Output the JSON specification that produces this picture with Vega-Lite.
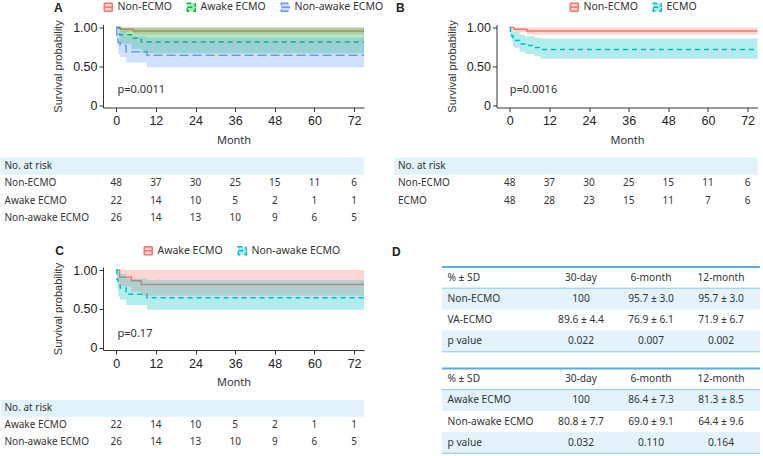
{
  "$schema": "https://vega.github.io/schema/vega-lite/v6.json",
  "padding": {"top": 1.5, "left": 0, "right": 0, "bottom": 0},
  "background": "white",
  "datasets": {
    "km": [
      {"group": "Non-ECMO", "t": 0, "s": 1, "lo": 1, "hi": 1},
      {"group": "Non-ECMO", "t": 1.3, "s": 0.979, "lo": 0.94, "hi": 1},
      {"group": "Non-ECMO", "t": 5.2, "s": 0.957, "lo": 0.91, "hi": 1},
      {"group": "Non-ECMO", "t": 75, "s": 0.957, "lo": 0.91, "hi": 1},
      {"group": "Awake ECMO", "t": 0, "s": 1, "lo": 1, "hi": 1},
      {"group": "Awake ECMO", "t": 1.0, "s": 0.909, "lo": 0.79, "hi": 1},
      {"group": "Awake ECMO", "t": 4.6, "s": 0.864, "lo": 0.72, "hi": 1},
      {"group": "Awake ECMO", "t": 7.6, "s": 0.813, "lo": 0.67, "hi": 1},
      {"group": "Awake ECMO", "t": 75, "s": 0.813, "lo": 0.67, "hi": 1},
      {"group": "Non-awake ECMO", "t": 0, "s": 1, "lo": 1, "hi": 1},
      {"group": "Non-awake ECMO", "t": 0.2, "s": 0.885, "lo": 0.77, "hi": 1},
      {"group": "Non-awake ECMO", "t": 0.6, "s": 0.808, "lo": 0.66, "hi": 0.97},
      {"group": "Non-awake ECMO", "t": 1.2, "s": 0.769, "lo": 0.62, "hi": 0.95},
      {"group": "Non-awake ECMO", "t": 3.0, "s": 0.69, "lo": 0.55, "hi": 0.89},
      {"group": "Non-awake ECMO", "t": 9.3, "s": 0.644, "lo": 0.49, "hi": 0.87},
      {"group": "Non-awake ECMO", "t": 75, "s": 0.644, "lo": 0.49, "hi": 0.87},
      {"group": "ECMO", "t": 0, "s": 1, "lo": 1, "hi": 1},
      {"group": "ECMO", "t": 0.2, "s": 0.938, "lo": 0.87, "hi": 1},
      {"group": "ECMO", "t": 0.6, "s": 0.896, "lo": 0.82, "hi": 0.98},
      {"group": "ECMO", "t": 1.0, "s": 0.854, "lo": 0.76, "hi": 0.95},
      {"group": "ECMO", "t": 1.2, "s": 0.833, "lo": 0.74, "hi": 0.94},
      {"group": "ECMO", "t": 3.0, "s": 0.79, "lo": 0.69, "hi": 0.91},
      {"group": "ECMO", "t": 4.6, "s": 0.769, "lo": 0.66, "hi": 0.89},
      {"group": "ECMO", "t": 7.6, "s": 0.745, "lo": 0.63, "hi": 0.87},
      {"group": "ECMO", "t": 9.3, "s": 0.719, "lo": 0.6, "hi": 0.86},
      {"group": "ECMO", "t": 75, "s": 0.719, "lo": 0.6, "hi": 0.86}
    ],
    "risk": [
      {"group": "Non-ECMO", "month": 0, "n": 48}, {"group": "Non-ECMO", "month": 12, "n": 37}, {"group": "Non-ECMO", "month": 24, "n": 30}, {"group": "Non-ECMO", "month": 36, "n": 25}, {"group": "Non-ECMO", "month": 48, "n": 15}, {"group": "Non-ECMO", "month": 60, "n": 11}, {"group": "Non-ECMO", "month": 72, "n": 6},
      {"group": "Awake ECMO", "month": 0, "n": 22}, {"group": "Awake ECMO", "month": 12, "n": 14}, {"group": "Awake ECMO", "month": 24, "n": 10}, {"group": "Awake ECMO", "month": 36, "n": 5}, {"group": "Awake ECMO", "month": 48, "n": 2}, {"group": "Awake ECMO", "month": 60, "n": 1}, {"group": "Awake ECMO", "month": 72, "n": 1},
      {"group": "Non-awake ECMO", "month": 0, "n": 26}, {"group": "Non-awake ECMO", "month": 12, "n": 14}, {"group": "Non-awake ECMO", "month": 24, "n": 13}, {"group": "Non-awake ECMO", "month": 36, "n": 10}, {"group": "Non-awake ECMO", "month": 48, "n": 9}, {"group": "Non-awake ECMO", "month": 60, "n": 6}, {"group": "Non-awake ECMO", "month": 72, "n": 5},
      {"group": "ECMO", "month": 0, "n": 48}, {"group": "ECMO", "month": 12, "n": 28}, {"group": "ECMO", "month": 24, "n": 23}, {"group": "ECMO", "month": 36, "n": 15}, {"group": "ECMO", "month": 48, "n": 11}, {"group": "ECMO", "month": 60, "n": 7}, {"group": "ECMO", "month": 72, "n": 6}
    ],
    "tab": [
      {"tbl": 1, "row": "% ± SD", "col": "30-day", "value": "30-day"}, {"tbl": 1, "row": "% ± SD", "col": "6-month", "value": "6-month"}, {"tbl": 1, "row": "% ± SD", "col": "12-month", "value": "12-month"},
      {"tbl": 1, "row": "Non-ECMO", "col": "30-day", "value": "100"}, {"tbl": 1, "row": "Non-ECMO", "col": "6-month", "value": "95.7 ± 3.0"}, {"tbl": 1, "row": "Non-ECMO", "col": "12-month", "value": "95.7 ± 3.0"},
      {"tbl": 1, "row": "VA-ECMO", "col": "30-day", "value": "89.6 ± 4.4"}, {"tbl": 1, "row": "VA-ECMO", "col": "6-month", "value": "76.9 ± 6.1"}, {"tbl": 1, "row": "VA-ECMO", "col": "12-month", "value": "71.9 ± 6.7"},
      {"tbl": 1, "row": "p value", "col": "30-day", "value": "0.022"}, {"tbl": 1, "row": "p value", "col": "6-month", "value": "0.007"}, {"tbl": 1, "row": "p value", "col": "12-month", "value": "0.002"},
      {"tbl": 2, "row": "% ± SD", "col": "30-day", "value": "30-day"}, {"tbl": 2, "row": "% ± SD", "col": "6-month", "value": "6-month"}, {"tbl": 2, "row": "% ± SD", "col": "12-month", "value": "12-month"},
      {"tbl": 2, "row": "Awake ECMO", "col": "30-day", "value": "100"}, {"tbl": 2, "row": "Awake ECMO", "col": "6-month", "value": "86.4 ± 7.3"}, {"tbl": 2, "row": "Awake ECMO", "col": "12-month", "value": "81.3 ± 8.5"},
      {"tbl": 2, "row": "Non-awake ECMO", "col": "30-day", "value": "80.8 ± 7.7"}, {"tbl": 2, "row": "Non-awake ECMO", "col": "6-month", "value": "69.0 ± 9.1"}, {"tbl": 2, "row": "Non-awake ECMO", "col": "12-month", "value": "64.4 ± 9.6"},
      {"tbl": 2, "row": "p value", "col": "30-day", "value": "0.032"}, {"tbl": 2, "row": "p value", "col": "6-month", "value": "0.110"}, {"tbl": 2, "row": "p value", "col": "12-month", "value": "0.164"}
    ]
  },
  "config": {
    "view": {"stroke": null},
    "text": {"font": "Noto Sans"},
    "axis": {"domainColor": "#333", "tickColor": "#333", "labelColor": "#222", "titleColor": "#333", "grid": false, "labelFlush": false, "labelOverlap": false},
    "legend": {"orient": "none", "direction": "horizontal", "titleOrient": "left", "titleFont": "Liberation Sans", "titleFontSize": 12, "titleFontWeight": "bold", "titleColor": "#222", "labelFont": "Noto Sans", "labelFontSize": 10.5, "labelColor": "#333", "labelOffset": 4, "columnPadding": 12, "symbolSize": 64, "symbolType": "M-1,0H1V1H-1V-1H1V0", "symbolStrokeWidth": 1.5, "symbolDash": [8, 40], "padding": 0}
  },
  "resolve": {"scale": {"color": "independent", "strokeDash": "independent"}, "legend": {"color": "independent", "strokeDash": "independent"}},
  "spacing": 17.5,
  "vconcat": [
    {
      "hconcat": [
        {
          "vconcat": [
            {
              "name": "kmA",
              "width": 261, "height": 83,
              "layer": [
                {
                  "data": {"name": "km"},
                  "transform": [{"filter": {"field": "group", "oneOf": ["Non-ECMO", "Awake ECMO", "Non-awake ECMO"]}}],
                  "mark": {"type": "line", "interpolate": "step-after", "strokeWidth": 1.5},
                  "encoding": {
                    "x": {"field": "t", "type": "quantitative", "scale": {"domain": [-4, 75], "nice": false, "zero": false}, "axis": {"title": "Month", "values": [0, 12, 24, 36, 48, 60, 72], "tickSize": 4, "labelPadding": 3, "labelFont": "Liberation Sans", "labelFontSize": 12.5, "titleFont": "Noto Sans", "titleFontSize": 11, "titleFontWeight": "normal", "titlePadding": 7}},
                    "y": {"field": "s", "type": "quantitative", "scale": {"domain": [-0.03, 1.04], "nice": false, "zero": false}, "axis": {"title": "Survival probability", "values": [0, 0.25, 0.5, 0.75, 1], "labelExpr": "datum.value == 0 ? '0' : format(datum.value, '.2f')", "tickSize": 4, "labelPadding": 2, "labelFont": "Liberation Sans", "labelFontSize": 12.5, "titleFont": "Liberation Sans", "titleFontSize": 11, "titleFontWeight": "normal", "titlePadding": 9}},
                    "color": {"field": "group", "type": "nominal", "scale": {"domain": ["Non-ECMO", "Awake ECMO", "Non-awake ECMO"], "range": ["#F8766D", "#00BA38", "#619CFF"]}, "legend": {"title": "A", "legendX": -49, "legendY": -23, "titlePadding": 40, "symbolType": "M-1,0H1V1H-1V-1H1V0", "symbolDash": [8, 40], "encode": {"symbols": {"update": {"shape": {"value": "M-1,0H1V1H-1V-1H1V0"}, "fill": {"scale": "kmA_color", "field": "value"}, "fillOpacity": {"value": 0.35}, "opacity": {"value": 1}, "strokeDash": {"value": [8, 40]}, "strokeWidth": {"value": 1.5}}}}}},
                    "strokeDash": {"field": "group", "type": "nominal", "scale": {"domain": ["Non-ECMO", "Awake ECMO", "Non-awake ECMO"], "range": [[1, 0], [5, 4], [9, 4]]}, "legend": null}
                  }
                },
                {
                  "data": {"name": "km"},
                  "transform": [{"filter": {"field": "group", "oneOf": ["Non-ECMO", "Awake ECMO", "Non-awake ECMO"]}}],
                  "mark": {"type": "area", "interpolate": "step-after", "fillOpacity": 0.3},
                  "encoding": {
                    "x": {"field": "t", "type": "quantitative"},
                    "y": {"field": "lo", "type": "quantitative"},
                    "y2": {"field": "hi"},
                    "color": {"field": "group", "type": "nominal"}
                  }
                },
                {
                  "data": {"values": [{"label": "p=0.0011"}]},
                  "mark": {"type": "text", "align": "left", "fontSize": 11, "color": "#333"},
                  "encoding": {"x": {"datum": 0.4}, "y": {"datum": 0.2}, "text": {"field": "label"}}
                }
              ]
            },
            {
              "width": 261, "height": 69.2,
              "layer": [
                {
                  "data": {"values": [{"row": "No. at risk"}]},
                  "mark": {"type": "rect", "color": "#e2f2fb"},
                  "encoding": {
                    "x": {"datum": -35, "type": "quantitative", "scale": {"domain": [-4, 75], "nice": false, "zero": false}, "axis": null},
                    "x2": {"datum": 75},
                    "y": {"field": "row", "type": "nominal", "scale": {"type": "band", "domain": ["No. at risk", "Non-ECMO", "Awake ECMO", "Non-awake ECMO"], "paddingInner": 0, "paddingOuter": 0}, "axis": {"title": null, "ticks": false, "tickSize": 0, "domain": false, "labelAlign": "left", "labelPadding": 99, "labelFont": "Noto Sans", "labelFontSize": 10, "labelColor": "#333"}}
                  }
                },
                {
                  "data": {"name": "risk"},
                  "transform": [{"filter": {"field": "group", "oneOf": ["Non-ECMO", "Awake ECMO", "Non-awake ECMO"]}}],
                  "mark": {"type": "text", "fontSize": 10, "color": "#333"},
                  "encoding": {"x": {"field": "month", "type": "quantitative"}, "y": {"field": "group", "type": "nominal"}, "text": {"field": "n", "type": "quantitative"}}
                }
              ]
            }
          ],
          "spacing": 50, "bounds": "flush",
          "resolve": {"scale": {"color": "independent", "strokeDash": "independent"}, "legend": {"color": "independent", "strokeDash": "independent"}}
        },
        {
          "vconcat": [
            {
              "name": "kmB",
              "width": 261, "height": 83,
              "layer": [
                {
                  "data": {"name": "km"},
                  "transform": [{"filter": {"field": "group", "oneOf": ["Non-ECMO", "ECMO"]}}],
                  "mark": {"type": "line", "interpolate": "step-after", "strokeWidth": 1.5},
                  "encoding": {
                    "x": {"field": "t", "type": "quantitative", "scale": {"domain": [-4, 75], "nice": false, "zero": false}, "axis": {"title": "Month", "values": [0, 12, 24, 36, 48, 60, 72], "tickSize": 4, "labelPadding": 3, "labelFont": "Liberation Sans", "labelFontSize": 12.5, "titleFont": "Noto Sans", "titleFontSize": 11, "titleFontWeight": "normal", "titlePadding": 7}},
                    "y": {"field": "s", "type": "quantitative", "scale": {"domain": [-0.03, 1.04], "nice": false, "zero": false}, "axis": {"title": "Survival probability", "values": [0, 0.25, 0.5, 0.75, 1], "labelExpr": "datum.value == 0 ? '0' : format(datum.value, '.2f')", "tickSize": 4, "labelPadding": 2, "labelFont": "Liberation Sans", "labelFontSize": 12.5, "titleFont": "Liberation Sans", "titleFontSize": 11, "titleFontWeight": "normal", "titlePadding": 9}},
                    "color": {"field": "group", "type": "nominal", "scale": {"domain": ["Non-ECMO", "ECMO"], "range": ["#F8766D", "#00BFC4"]}, "legend": {"title": "B", "legendX": -100.5, "legendY": -23, "titlePadding": 164, "symbolType": "M-1,0H1V1H-1V-1H1V0", "symbolDash": [8, 40], "encode": {"symbols": {"update": {"shape": {"value": "M-1,0H1V1H-1V-1H1V0"}, "fill": {"scale": "kmB_color", "field": "value"}, "fillOpacity": {"value": 0.35}, "opacity": {"value": 1}, "strokeDash": {"value": [8, 40]}, "strokeWidth": {"value": 1.5}}}}}},
                    "strokeDash": {"field": "group", "type": "nominal", "scale": {"domain": ["Non-ECMO", "ECMO"], "range": [[1, 0], [5, 4]]}, "legend": null}
                  }
                },
                {
                  "data": {"name": "km"},
                  "transform": [{"filter": {"field": "group", "oneOf": ["Non-ECMO", "ECMO"]}}],
                  "mark": {"type": "area", "interpolate": "step-after", "fillOpacity": 0.3},
                  "encoding": {
                    "x": {"field": "t", "type": "quantitative"},
                    "y": {"field": "lo", "type": "quantitative"},
                    "y2": {"field": "hi"},
                    "color": {"field": "group", "type": "nominal"}
                  }
                },
                {
                  "data": {"values": [{"label": "p=0.0016"}]},
                  "mark": {"type": "text", "align": "left", "fontSize": 11, "color": "#333"},
                  "encoding": {"x": {"datum": 0}, "y": {"datum": 0.2}, "text": {"field": "label"}}
                }
              ]
            },
            {
              "width": 261, "height": 51.9,
              "layer": [
                {
                  "data": {"values": [{"row": "No. at risk"}]},
                  "mark": {"type": "rect", "color": "#e2f2fb"},
                  "encoding": {
                    "x": {"datum": -35, "type": "quantitative", "scale": {"domain": [-4, 75], "nice": false, "zero": false}, "axis": null},
                    "x2": {"datum": 75},
                    "y": {"field": "row", "type": "nominal", "scale": {"type": "band", "domain": ["No. at risk", "Non-ECMO", "ECMO"], "paddingInner": 0, "paddingOuter": 0}, "axis": {"title": null, "ticks": false, "tickSize": 0, "domain": false, "labelAlign": "left", "labelPadding": 99, "labelFont": "Noto Sans", "labelFontSize": 10, "labelColor": "#333"}}
                  }
                },
                {
                  "data": {"name": "risk"},
                  "transform": [{"filter": {"field": "group", "oneOf": ["Non-ECMO", "ECMO"]}}],
                  "mark": {"type": "text", "fontSize": 10, "color": "#333"},
                  "encoding": {"x": {"field": "month", "type": "quantitative"}, "y": {"field": "group", "type": "nominal"}, "text": {"field": "n", "type": "quantitative"}}
                }
              ]
            }
          ],
          "spacing": 50, "bounds": "flush",
          "resolve": {"scale": {"color": "independent", "strokeDash": "independent"}, "legend": {"color": "independent", "strokeDash": "independent"}}
        }
      ],
      "spacing": 9.5,
      "resolve": {"scale": {"color": "independent", "strokeDash": "independent"}, "legend": {"color": "independent", "strokeDash": "independent"}}
    },
    {
      "hconcat": [
        {
          "vconcat": [
            {
              "name": "kmC",
              "width": 261, "height": 83,
              "layer": [
                {
                  "data": {"name": "km"},
                  "transform": [{"filter": {"field": "group", "oneOf": ["Awake ECMO", "Non-awake ECMO"]}}],
                  "mark": {"type": "line", "interpolate": "step-after", "strokeWidth": 1.5},
                  "encoding": {
                    "x": {"field": "t", "type": "quantitative", "scale": {"domain": [-4, 75], "nice": false, "zero": false}, "axis": {"title": "Month", "values": [0, 12, 24, 36, 48, 60, 72], "tickSize": 4, "labelPadding": 3, "labelFont": "Liberation Sans", "labelFontSize": 12.5, "titleFont": "Noto Sans", "titleFontSize": 11, "titleFontWeight": "normal", "titlePadding": 7}},
                    "y": {"field": "s", "type": "quantitative", "scale": {"domain": [-0.03, 1.04], "nice": false, "zero": false}, "axis": {"title": "Survival probability", "values": [0, 0.25, 0.5, 0.75, 1], "labelExpr": "datum.value == 0 ? '0' : format(datum.value, '.2f')", "tickSize": 4, "labelPadding": 2, "labelFont": "Liberation Sans", "labelFontSize": 12.5, "titleFont": "Liberation Sans", "titleFontSize": 11, "titleFontWeight": "normal", "titlePadding": 9}},
                    "color": {"field": "group", "type": "nominal", "scale": {"domain": ["Awake ECMO", "Non-awake ECMO"], "range": ["#F8766D", "#00BFC4"]}, "legend": {"title": "C", "legendX": -47.7, "legendY": -21.9, "titlePadding": 78.7, "symbolType": "M-1,0H1V1H-1V-1H1V0", "symbolDash": [8, 40], "encode": {"symbols": {"update": {"shape": {"value": "M-1,0H1V1H-1V-1H1V0"}, "fill": {"scale": "kmC_color", "field": "value"}, "fillOpacity": {"value": 0.35}, "opacity": {"value": 1}, "strokeDash": {"value": [8, 40]}, "strokeWidth": {"value": 1.5}}}}}},
                    "strokeDash": {"field": "group", "type": "nominal", "scale": {"domain": ["Awake ECMO", "Non-awake ECMO"], "range": [[1, 0], [5, 4]]}, "legend": null}
                  }
                },
                {
                  "data": {"name": "km"},
                  "transform": [{"filter": {"field": "group", "oneOf": ["Awake ECMO", "Non-awake ECMO"]}}],
                  "mark": {"type": "area", "interpolate": "step-after", "fillOpacity": 0.3},
                  "encoding": {
                    "x": {"field": "t", "type": "quantitative"},
                    "y": {"field": "lo", "type": "quantitative"},
                    "y2": {"field": "hi"},
                    "color": {"field": "group", "type": "nominal"}
                  }
                },
                {
                  "data": {"values": [{"label": "p=0.17"}]},
                  "mark": {"type": "text", "align": "left", "fontSize": 11, "color": "#333"},
                  "encoding": {"x": {"datum": 0.4}, "y": {"datum": 0.18}, "text": {"field": "label"}}
                }
              ]
            },
            {
              "width": 261, "height": 50.1,
              "layer": [
                {
                  "data": {"values": [{"row": "No. at risk"}]},
                  "mark": {"type": "rect", "color": "#e2f2fb"},
                  "encoding": {
                    "x": {"datum": -35, "type": "quantitative", "scale": {"domain": [-4, 75], "nice": false, "zero": false}, "axis": null},
                    "x2": {"datum": 75},
                    "y": {"field": "row", "type": "nominal", "scale": {"type": "band", "domain": ["No. at risk", "Awake ECMO", "Non-awake ECMO"], "paddingInner": 0, "paddingOuter": 0}, "axis": {"title": null, "ticks": false, "tickSize": 0, "domain": false, "labelAlign": "left", "labelPadding": 99, "labelFont": "Noto Sans", "labelFontSize": 10, "labelColor": "#333"}}
                  }
                },
                {
                  "data": {"name": "risk"},
                  "transform": [{"filter": {"field": "group", "oneOf": ["Awake ECMO", "Non-awake ECMO"]}}],
                  "mark": {"type": "text", "fontSize": 10, "color": "#333"},
                  "encoding": {"x": {"field": "month", "type": "quantitative"}, "y": {"field": "group", "type": "nominal"}, "text": {"field": "n", "type": "quantitative"}}
                }
              ]
            }
          ],
          "spacing": 50, "bounds": "flush",
          "resolve": {"scale": {"color": "independent", "strokeDash": "independent"}, "legend": {"color": "independent", "strokeDash": "independent"}}
        },
        {
          "vconcat": [
            {
              "width": 318, "height": 84.8,
              "title": {"text": "D", "anchor": "start", "frame": "group", "dx": -50, "offset": 7, "font": "Liberation Sans", "fontSize": 12, "fontWeight": "bold", "color": "#222"},
              "layer": [
                {
                  "data": {"values": [{"row": "Non-ECMO"}, {"row": "p value"}]},
                  "mark": {"type": "rect", "color": "#e4f3fb"},
                  "encoding": {"y": {"field": "row", "type": "nominal", "scale": {"type": "band", "domain": ["% ± SD", "Non-ECMO", "VA-ECMO", "p value"], "paddingInner": 0, "paddingOuter": 0}, "axis": {"title": null, "ticks": false, "tickSize": 0, "domain": false, "labelAlign": "left", "labelPadding": -5, "labelFont": "Noto Sans", "labelFontSize": 10.2, "labelColor": "#333"}}}
                },
                {
                  "data": {"values": [{"row": "% ± SD"}]},
                  "mark": {"type": "rule", "color": "#5aaedc", "strokeWidth": 2},
                  "encoding": {"y": {"field": "row", "type": "nominal", "bandPosition": 0}}
                },
                {
                  "data": {"values": [{"row": "% ± SD"}]},
                  "mark": {"type": "rule", "color": "#8cc8ea", "strokeWidth": 1},
                  "encoding": {"y": {"field": "row", "type": "nominal", "bandPosition": 1}}
                },
                {
                  "data": {"values": [{"row": "p value"}]},
                  "mark": {"type": "rule", "color": "#8cc8ea", "strokeWidth": 1},
                  "encoding": {"y": {"field": "row", "type": "nominal", "bandPosition": 1}}
                },
                {
                  "data": {"name": "tab"},
                  "transform": [{"filter": "datum.tbl == 1"}],
                  "mark": {"type": "text", "fontSize": 10.2, "color": "#333"},
                  "encoding": {
                    "x": {"field": "col", "type": "nominal", "scale": {"type": "band", "domain": ["30-day", "6-month", "12-month"], "paddingInner": 0, "paddingOuter": 0.771, "align": 0.963}, "axis": null},
                    "y": {"field": "row", "type": "nominal"},
                    "text": {"field": "value"}
                  }
                }
              ]
            },
            {
              "width": 318, "height": 84.8,
              "layer": [
                {
                  "data": {"values": [{"row": "Awake ECMO"}, {"row": "p value"}]},
                  "mark": {"type": "rect", "color": "#e4f3fb"},
                  "encoding": {"y": {"field": "row", "type": "nominal", "scale": {"type": "band", "domain": ["% ± SD", "Awake ECMO", "Non-awake ECMO", "p value"], "paddingInner": 0, "paddingOuter": 0}, "axis": {"title": null, "ticks": false, "tickSize": 0, "domain": false, "labelAlign": "left", "labelPadding": -5, "labelFont": "Noto Sans", "labelFontSize": 10.2, "labelColor": "#333"}}}
                },
                {
                  "data": {"values": [{"row": "% ± SD"}]},
                  "mark": {"type": "rule", "color": "#5aaedc", "strokeWidth": 2},
                  "encoding": {"y": {"field": "row", "type": "nominal", "bandPosition": 0}}
                },
                {
                  "data": {"values": [{"row": "% ± SD"}]},
                  "mark": {"type": "rule", "color": "#8cc8ea", "strokeWidth": 1},
                  "encoding": {"y": {"field": "row", "type": "nominal", "bandPosition": 1}}
                },
                {
                  "data": {"values": [{"row": "p value"}]},
                  "mark": {"type": "rule", "color": "#8cc8ea", "strokeWidth": 1},
                  "encoding": {"y": {"field": "row", "type": "nominal", "bandPosition": 1}}
                },
                {
                  "data": {"name": "tab"},
                  "transform": [{"filter": "datum.tbl == 2"}],
                  "mark": {"type": "text", "fontSize": 10.2, "color": "#333"},
                  "encoding": {
                    "x": {"field": "col", "type": "nominal", "scale": {"type": "band", "domain": ["30-day", "6-month", "12-month"], "paddingInner": 0, "paddingOuter": 0.771, "align": 0.963}, "axis": null},
                    "y": {"field": "row", "type": "nominal"},
                    "text": {"field": "value"}
                  }
                }
              ]
            }
          ],
          "spacing": 16.5, "bounds": "flush",
          "resolve": {"scale": {"color": "independent", "strokeDash": "independent"}, "legend": {"color": "independent", "strokeDash": "independent"}}
        }
      ],
      "spacing": 25,
      "resolve": {"scale": {"color": "independent", "strokeDash": "independent"}, "legend": {"color": "independent", "strokeDash": "independent"}}
    }
  ]
}
